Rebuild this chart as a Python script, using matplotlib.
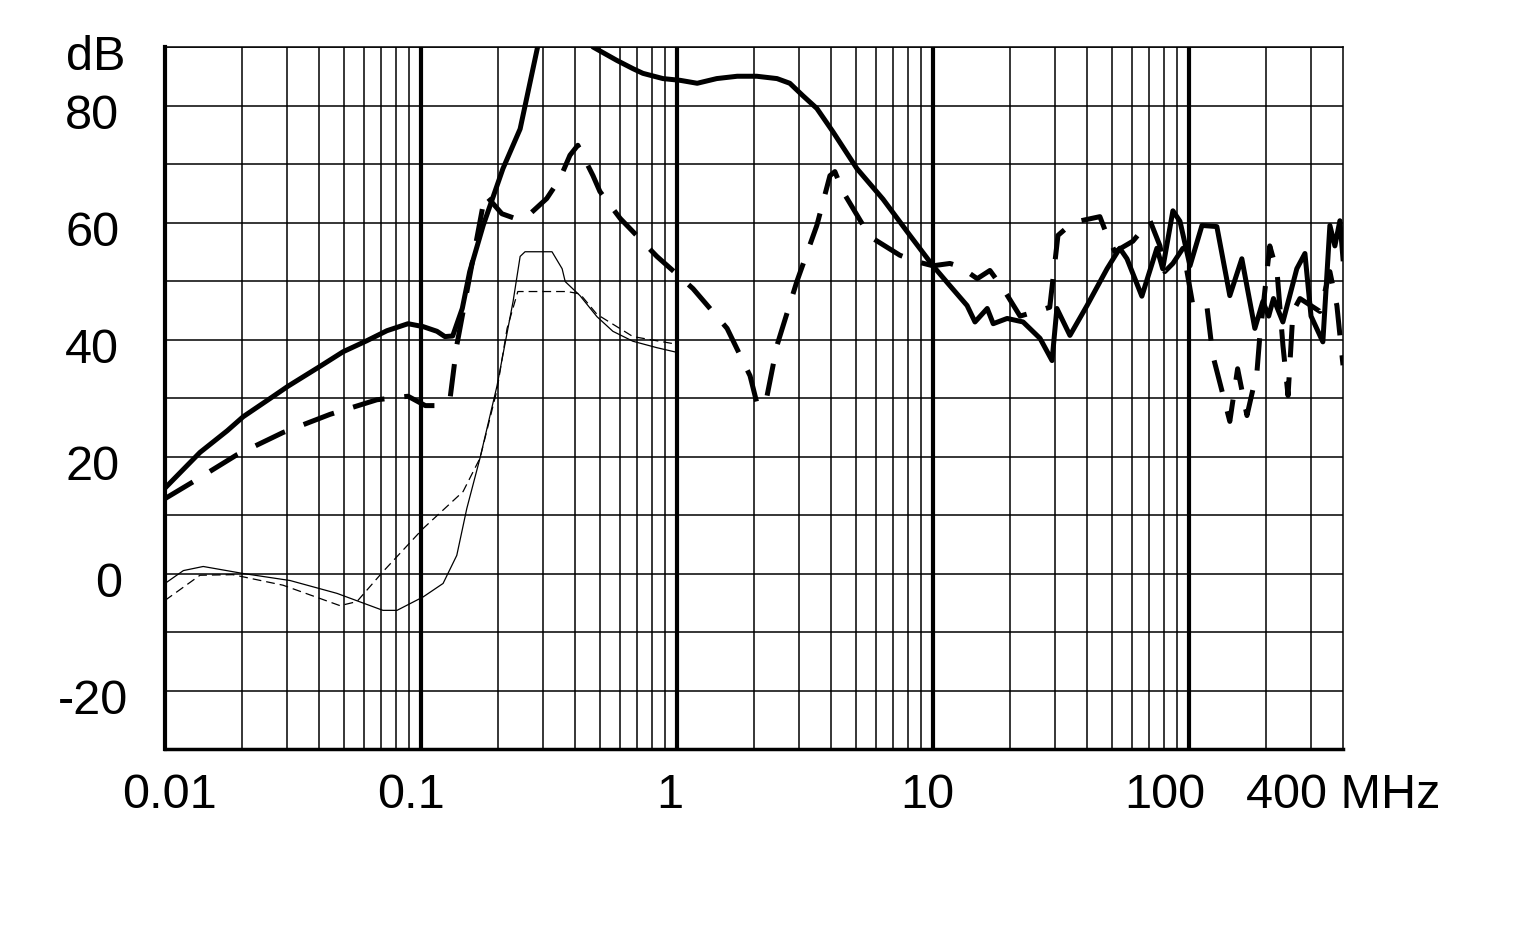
import matplotlib.pyplot as plt
from matplotlib.ticker import NullLocator
from matplotlib.transforms import ScaledTranslation

plt.rcParams['font.family'] = ['Liberation Sans', 'DejaVu Sans']

# heavy solid curve (MHz, dB)
freq_a = [0.01, 0.0137, 0.0175, 0.0202, 0.0257, 0.0302, 0.0403, 0.0496, 0.0615, 0.0736,
          0.089, 0.102, 0.1155, 0.124, 0.133, 0.145, 0.155, 0.175, 0.209, 0.244, 0.292,
          0.437, 0.47, 0.583, 0.673, 0.736, 0.882, 1.03, 1.2, 1.43, 1.72, 2.05, 2.46,
          2.76, 3.1, 3.52, 4.07, 5.05, 6.38, 8.13, 10.0, 11.65, 13.6, 14.6, 16.3, 17.2,
          19.5, 22.5, 26.2, 29.2, 30.5, 34.3, 40.0, 47.9, 53.7, 57.3, 65.5, 75.0, 79.0,
          86.6, 92.3, 101.0, 112.5, 128.6, 144.5, 161.0, 181.0, 194.5, 205.0, 214.0,
          232.9, 264.0, 284.0, 300.0, 333.7, 355.5, 371.8, 389.0, 400.0]
db_a = [14.6, 20.7, 24.4, 26.8, 29.9, 32.0, 35.4, 37.9, 39.8, 41.5,
        42.7, 42.2, 41.4, 40.5, 40.6, 45.3, 51.6, 59.5, 69.2, 76.0, 92.0,
        92.0, 90.0, 87.7, 86.3, 85.5, 84.6, 84.3, 83.8, 84.6, 85.0, 85.0, 84.6,
        83.8, 81.7, 79.5, 75.5, 69.2, 64.0, 57.8, 52.6, 49.2, 45.8, 43.0, 45.3, 42.7,
        43.6, 43.0, 40.2, 36.4, 45.3, 40.7, 45.8, 52.1, 55.6, 53.8, 47.4, 55.6, 52.1,
        62.0, 60.2, 52.6, 59.5, 59.3, 47.5, 53.8, 41.9, 46.5, 44.0, 47.0,
        43.0, 52.1, 54.7, 44.0, 39.6, 59.5, 56.0, 60.3, 53.8]

# heavy dashed curve
freq_b = [0.01, 0.0129, 0.0191, 0.0289, 0.0441, 0.0673, 0.089, 0.104, 0.119, 0.13,
          0.138, 0.178, 0.207, 0.233, 0.267, 0.31, 0.349, 0.382, 0.41, 0.47, 0.5,
          0.6, 0.835, 1.01, 1.155, 1.57, 1.93, 2.07, 2.25, 2.46, 2.94, 3.52, 3.96,
          4.14, 4.45, 5.67, 7.43, 8.66, 10.0, 11.65, 12.7, 14.9, 16.7, 18.8, 21.9,
          26.2, 28.6, 30.8, 35.2, 44.9, 47.9, 51.4, 60.4, 70.5, 77.1, 80.5, 86.6,
          94.8, 103.7, 117.5, 124.0, 144.5, 155.0, 168.6, 184.5, 189.0, 207.0, 221.0,
          233.0, 244.0, 255.0, 271.6, 325.0, 355.5, 378.6, 400.0]
db_b = [12.8, 15.7, 20.3, 24.1, 27.2, 29.7, 30.3, 28.7, 28.7, 30.0,
        39.0, 64.8, 61.5, 60.7, 61.5, 64.1, 67.5, 71.5, 73.2, 68.0, 65.3,
        60.7, 54.2, 51.0, 48.7, 41.9, 33.8, 28.5, 30.4, 39.0, 49.9, 59.5, 68.0,
        68.7, 65.3, 57.6, 54.4, 53.3, 52.6, 53.0, 52.5, 50.4, 51.8, 48.7, 44.0,
        45.0, 45.5, 57.8, 60.0, 61.0, 57.8, 55.0, 56.8, 60.3, 56.0, 51.6, 53.0,
        55.6, 45.8, 45.8, 37.3, 26.0, 35.0, 27.0, 34.5, 40.2, 56.0, 51.6,
        39.0, 30.4, 44.8, 47.0, 44.8, 51.6, 45.8, 35.6]

# thin solid curve
freq_c = [0.01, 0.0118, 0.0141, 0.0202, 0.0308, 0.047, 0.071, 0.0806, 0.102, 0.122,
          0.138, 0.151, 0.17, 0.198, 0.229, 0.244, 0.255, 0.325, 0.356, 0.366,
          0.418, 0.487, 0.562, 0.673, 0.835, 1.0]
db_c = [-1.7, 0.5, 1.2, 0.0, -1.2, -3.4, -6.3, -6.3, -4.0, -1.7,
        3.1, 11.1, 19.7, 32.0, 46.5, 54.2, 55.0, 55.0, 52.1, 49.9,
        47.5, 43.9, 41.4, 39.7, 38.6, 37.8]

# thin dashed curve
freq_d = [0.01, 0.0137, 0.0184, 0.0289, 0.0483, 0.0562, 0.071, 0.102, 0.146, 0.17,
          0.198, 0.217, 0.239, 0.372, 0.418, 0.487, 0.673, 0.965, 1.0]
db_d = [-4.6, -0.3, -0.2, -2.0, -5.5, -4.8, 0.3, 7.7, 14.0, 19.7,
        31.3, 41.9, 48.2, 48.2, 47.8, 44.3, 40.5, 39.3, 39.0]

x_ticks = [0.01, 0.1, 1, 10, 100, 400]
x_labels = ['0.01', '0.1', '1', '10', '100', '400 MHz']
y_ticks = [-20, 0, 20, 40, 60, 80, 90]
y_labels = ['-20', '0', '20', '40', '60', '80', 'dB']

fig = plt.figure(figsize=(15.14, 9.25), dpi=100)
ax = fig.add_axes([165 / 1514, 1 - 749 / 925, (1343 - 165) / 1514, (749 - 47) / 925])
ax.set_xscale('log')
ax.set_xlim(0.01, 400)
ax.set_ylim(-30, 90)

# log grid, heavy at decades
for decade in [0.01, 0.1, 1, 10, 100]:
    for m in range(2, 10):
        if decade * m < 400:
            ax.axvline(decade * m, color='black', lw=1.1, zorder=1)
for decade in [0.1, 1, 10, 100]:
    ax.axvline(decade, color='black', lw=3.0, zorder=1)
for y in range(-20, 91, 10):
    ax.axhline(y, color='black', lw=1.1, zorder=1)

ax.plot(freq_a, db_a, color='black', lw=3.6, solid_joinstyle='round', zorder=3)
ax.plot(freq_b, db_b, color='black', lw=3.6, dashes=(6.5, 4), zorder=3)
ax.plot(freq_c, db_c, color='black', lw=0.9, zorder=3)
ax.plot(freq_d, db_d, color='black', lw=0.9, dashes=(7, 4), zorder=3)

ax.spines['left'].set_linewidth(3.0)
ax.spines['bottom'].set_linewidth(2.5)
ax.spines['top'].set_linewidth(1.1)
ax.spines['right'].set_linewidth(1.1)

ax.xaxis.set_minor_locator(NullLocator())
ax.set_xticks(x_ticks)
ax.set_xticklabels(x_labels)
ax.set_yticks(y_ticks)
ax.set_yticklabels(y_labels)
ax.tick_params(length=0, labelsize=35)
ax.tick_params(axis='x', pad=17)
ax.tick_params(axis='y', pad=33)

# labels sit a little off their grid lines in the original
x_shifts = [4, -10, -7, -6, -24, 0]
for lab, dx in zip(ax.get_xticklabels(), x_shifts):
    lab.set_transform(lab.get_transform() + ScaledTranslation(dx / 100, 0, fig.dpi_scale_trans))
y_shifts = [9, 3, 0, 0, 0, 0, 6]
for lab, dx in zip(ax.get_yticklabels(), y_shifts):
    lab.set_transform(lab.get_transform() + ScaledTranslation(dx / 100, -6 / 100, fig.dpi_scale_trans))

fig.savefig('out.png', dpi=100)
